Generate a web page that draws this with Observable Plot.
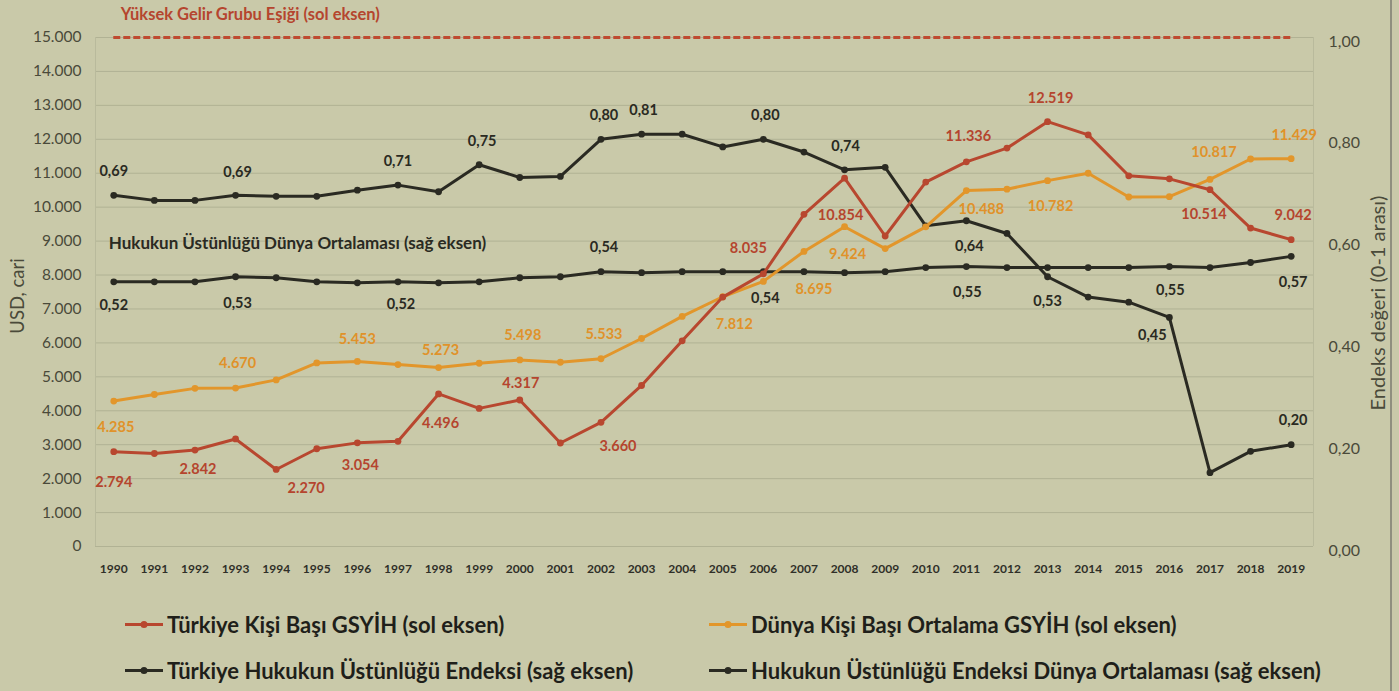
<!DOCTYPE html>
<html><head><meta charset="utf-8">
<script src="https://cdn.jsdelivr.net/npm/d3@7"></script>
<script src="https://cdn.jsdelivr.net/npm/@observablehq/plot@0.6"></script>
<style>
html,body{margin:0;padding:0;background:#c9c9a9;}
#wrap{position:relative;width:1399px;height:691px;overflow:hidden;background:#c9c9a9;font-family:Lato,"Open Sans",sans-serif;}
#chart{position:absolute;left:0;top:0;}
.axt{position:absolute;color:#4a4a3a;white-space:nowrap;transform:translate(-50%,-50%) rotate(-90deg);}
.leg{position:absolute;display:flex;align-items:center;font-weight:700;font-size:22px;color:#1f1f1a;white-space:nowrap;transform:translateY(-50%);}
.leg svg{margin-right:4px;}
#edge{position:absolute;left:1390px;top:0;width:2px;height:691px;background:#8f8f7e;}
</style></head><body>
<div id="wrap"><div id="chart"></div><div id="legend"></div>
<div class="axt" style="left:17px;top:296px;font-size:18.5px">USD, cari</div>
<div class="axt" style="left:1377px;top:303px;font-size:20px">Endeks değeri (0-1 arası)</div>
<div id="edge"></div>
</div>
<script>
// ---------- DATA ----------
const years = [1990,1991,1992,1993,1994,1995,1996,1997,1998,1999,2000,2001,2002,2003,2004,2005,2006,2007,2008,2009,2010,2011,2012,2013,2014,2015,2016,2017,2018,2019];
const turkeyGdp = [2794,2740,2842,3170,2270,2880,3054,3100,4496,4070,4317,3050,3660,4745,6060,7350,8035,9790,10854,9150,10740,11336,11740,12519,12130,10925,10835,10514,9385,9042];
const worldGdp = [4285,4480,4660,4670,4910,5410,5453,5360,5273,5400,5498,5430,5533,6130,6780,7360,7812,8695,9424,8780,9420,10488,10530,10782,11000,10300,10310,10817,11420,11429];
const turkeyRol = [0.69,0.68,0.68,0.69,0.688,0.688,0.70,0.71,0.697,0.75,0.725,0.727,0.80,0.81,0.81,0.785,0.80,0.775,0.74,0.745,0.63,0.64,0.615,0.53,0.49,0.48,0.45,0.145,0.187,0.20];
const worldRol = [0.52,0.52,0.52,0.53,0.528,0.52,0.518,0.52,0.518,0.52,0.528,0.53,0.54,0.538,0.54,0.54,0.54,0.54,0.538,0.54,0.548,0.55,0.548,0.548,0.548,0.548,0.55,0.548,0.558,0.57];
const highIncomeThreshold = 15000;
const leftTicks = [0,1000,2000,3000,4000,5000,6000,7000,8000,9000,10000,11000,12000,13000,14000,15000];
const rightTicks = [0,0.2,0.4,0.6,0.8,1.0];

const turkeyGdpLabelYears = [1990,1992,1994,1996,1998,2000,2002,2006,2008,2011,2013,2017,2019];
const worldGdpLabelYears = [1990,1993,1996,1998,2000,2002,2006,2007,2008,2011,2013,2017,2019];
const turkeyRolLabelYears = [1990,1993,1997,1999,2002,2003,2006,2008,2011,2013,2016,2019];
const worldRolLabelYears = [1990,1993,1997,2002,2006,2011,2016,2019];

const thresholdTitle = "Yüksek Gelir Grubu Eşiği (sol eksen)";
const worldRolTitle = "Hukukun Üstünlüğü Dünya Ortalaması (sağ eksen)";
const seriesNames = ["Türkiye Kişi Başı GSYİH (sol eksen)","Dünya Kişi Başı Ortalama GSYİH (sol eksen)","Türkiye Hukukun Üstünlüğü Endeksi (sağ eksen)","Hukukun Üstünlüğü Endeksi Dünya Ortalaması (sağ eksen)"];

// ---------- LAYOUT (label offsets in px: [dx, dy]) ----------
const offTG = {1990:[0,31],1992:[3,19],1994:[30,19],1996:[3,22],1998:[2,29],2000:[1,-17],2002:[17,24],2006:[-15,-25],2008:[-4,37],2011:[2,-25],2013:[3,-23],2017:[-6,25],2019:[2,-24]};
const offWG = {1990:[2,26],1993:[2,-25],1996:[0,-22],1998:[2,-17],2000:[3,-25],2002:[3,-24],2006:[-29,43],2007:[10,38],2008:[3,28],2011:[15,19],2013:[3,26],2017:[4,-27],2019:[3,-23]};
const offTR = {1990:[0,-24],1993:[2,-23],1997:[0,-24],1999:[3,-23],2002:[3,-24],2003:[2,-24],2006:[2,-24],2008:[1,-23],2011:[3,26],2013:[0,25],2016:[-17,18],2019:[2,-24]};
const offWR = {1990:[0,24],1993:[2,27],1997:[3,23],2002:[3,-24],2006:[2,27],2011:[1,26],2016:[1,24],2019:[2,26]};

const RED = "#b8472f", ORANGE = "#e2962b", BLACK = "#2a2a22";
const RIGHT_MAX = 15000; // right axis 1,00 aligned with left 15.000

const loc = d3.formatLocale({decimal:",", thousands:".", grouping:[3], currency:["",""]});
const fmtK = loc.format(",d");
const fmt2 = loc.format(".2f");

const tg = years.map((y,i)=>({year:y, v:turkeyGdp[i]}));
const wg = years.map((y,i)=>({year:y, v:worldGdp[i]}));
const tr = years.map((y,i)=>({year:y, v:turkeyRol[i]*RIGHT_MAX, r:turkeyRol[i]}));
const wr = years.map((y,i)=>({year:y, v:worldRol[i]*RIGHT_MAX, r:worldRol[i]}));

function labels(rows, ys, off, fmt, color){
  const sel = rows.filter(d=>ys.includes(d.year));
  return sel.map(d=>Plot.text([d], {x:"year", y:"v", text:fmt, dx:off[d.year][0], dy:off[d.year][1], fill:color, fontWeight:700, fontSize:14.5}));
}

const plot = Plot.plot({
  width:1399, height:596,
  marginLeft:95, marginRight:86, marginTop:37, marginBottom:50,
  style:{background:"transparent", color:"#4a4a3a", fontFamily:"Lato, 'Open Sans', sans-serif"},
  x:{type:"linear", domain:[1989.55,2019.55], axis:null},
  y:{domain:[0,15000], axis:null},
  marks:[
    Plot.ruleY(leftTicks, {stroke:"#b1b294", strokeWidth:1}),
    Plot.ruleX([1989.55,2019.55], {y1:0, y2:15000, stroke:"#b9ba9c", strokeWidth:1}),
    Plot.axisY({anchor:"left", ticks:leftTicks, tickFormat:fmtK, tickSize:0, tickPadding:14, fontSize:15.5, label:null}),
    Plot.axisY({anchor:"right", ticks:rightTicks.map(t=>t*RIGHT_MAX), tickFormat:d=>fmt2(d/RIGHT_MAX), tickSize:0, tickPadding:15, dy:4, fontSize:16, label:null}),
    Plot.axisX({ticks:years, tickFormat:d=>String(d), tickSize:0, tickPadding:18, fontSize:12, fontWeight:700, fill:"#2f2f28", label:null}),
    Plot.ruleY([highIncomeThreshold], {x1:years[0], x2:years[years.length-1], stroke:"#bf4a30", strokeWidth:3, strokeDasharray:"7,3"}),
    Plot.text([{year:years[0], v:highIncomeThreshold}], {x:"year", y:"v", text:()=>thresholdTitle, textAnchor:"start", dx:7, dy:-23, fill:"#b5452e", fontWeight:700, fontSize:16.5}),
    Plot.text([wr[0]], {x:"year", y:"v", text:()=>worldRolTitle, textAnchor:"start", dx:-5, dy:-38, fill:BLACK, fontWeight:700, fontSize:17}),
    Plot.line(wr, {x:"year", y:"v", stroke:BLACK, strokeWidth:3}),
    Plot.dot(wr, {x:"year", y:"v", fill:BLACK, r:3.4}),
    Plot.line(tr, {x:"year", y:"v", stroke:BLACK, strokeWidth:3}),
    Plot.dot(tr, {x:"year", y:"v", fill:BLACK, r:3.4}),
    Plot.line(wg, {x:"year", y:"v", stroke:ORANGE, strokeWidth:3}),
    Plot.dot(wg, {x:"year", y:"v", fill:ORANGE, r:3.4}),
    Plot.line(tg, {x:"year", y:"v", stroke:RED, strokeWidth:3}),
    Plot.dot(tg, {x:"year", y:"v", fill:RED, r:3.4}),
    ...labels(tg, turkeyGdpLabelYears, offTG, d=>fmtK(d.v), "#b5452e"),
    ...labels(wg, worldGdpLabelYears, offWG, d=>fmtK(d.v), "#e0922a"),
    ...labels(tr, turkeyRolLabelYears, offTR, d=>fmt2(d.r), BLACK),
    ...labels(wr, worldRolLabelYears, offWR, d=>fmt2(d.r), BLACK)
  ]
});
document.getElementById("chart").appendChild(plot);

// ---------- LEGEND ----------
const legendItems = [
  {name:seriesNames[0], color:RED, left:125, top:624},
  {name:seriesNames[1], color:ORANGE, left:709, top:624},
  {name:seriesNames[2], color:BLACK, left:125, top:670},
  {name:seriesNames[3], color:BLACK, left:709, top:670}
];
const lg = document.getElementById("legend");
legendItems.forEach(it=>{
  const d = document.createElement("div");
  d.className = "leg";
  d.style.left = it.left+"px"; d.style.top = it.top+"px";
  d.innerHTML = `<svg width="38" height="10"><line x1="0" y1="5" x2="38" y2="5" stroke="${it.color}" stroke-width="3"/><circle cx="19" cy="5" r="3.5" fill="${it.color}"/></svg><span>${it.name}</span>`;
  lg.appendChild(d);
});
</script>
</body></html>
